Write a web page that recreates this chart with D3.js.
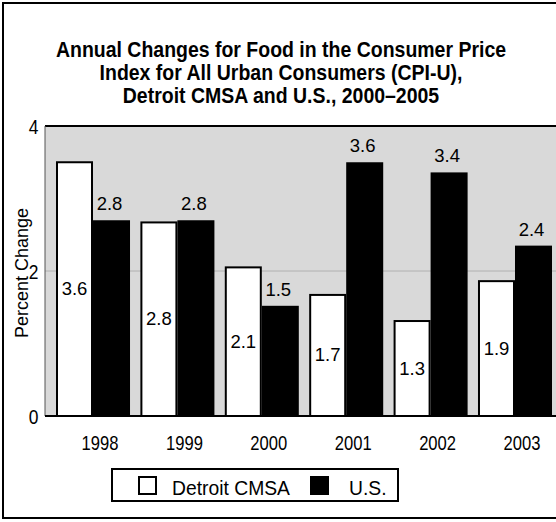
<!DOCTYPE html>
<html lang="en">
<head>
  <meta charset="UTF-8">
  <title>Food CPI-U, Detroit CMSA and U.S.</title>
  <style>
    body {
      margin: 0;
      padding: 0;
      background-color: #ffffff;
      font-family: "Liberation Sans", Arial, Helvetica, sans-serif;
    }
    svg { display: block; }
  </style>
  <script src="https://d3js.org/d3.v7.min.js"></script>
</head>
<body>
  <div id="chart"></div>

  <script>
    // Data
    const years = ["1998", "1999", "2000", "2001", "2002", "2003"];
    // bar heights as drawn
    const detroitValues = [3.5, 2.67, 2.05, 1.67, 1.31, 1.86];
    const usValues = [2.7, 2.7, 1.52, 3.5, 3.36, 2.35];
    // printed labels
    const detroitLabels = ["3.6", "2.8", "2.1", "1.7", "1.3", "1.9"];
    const usLabels = ["2.8", "2.8", "1.5", "3.6", "3.4", "2.4"];
    const yTicks = [0, 2, 4];
    const titleLines = [
      "Annual Changes for Food in the Consumer Price",
      "Index for All Urban Consumers (CPI-U),",
      "Detroit CMSA and U.S., 2000\u20132005"
    ];
    const seriesNames = ["Detroit CMSA", "U.S."];

    const width = 556;
    const height = 522;
    const plot = {left: 45, right: 562, top: 126, bottom: 416};

    const svg = d3.select("#chart")
      .append("svg")
      .attr("width", width)
      .attr("height", height);

    // outer frame (right side runs off the picture)
    svg.append("rect")
      .attr("x", 3)
      .attr("y", 3)
      .attr("width", 570)
      .attr("height", 515)
      .attr("fill", "none")
      .attr("stroke", "#000")
      .attr("stroke-width", 2);

    // title, condensed bold
    svg.append("g")
      .attr("transform", "translate(281,57) scale(0.886,1)")
      .append("text")
      .attr("text-anchor", "middle")
      .attr("font-weight", "bold")
      .attr("font-size", "22px")
      .selectAll("tspan")
      .data(titleLines)
      .enter()
      .append("tspan")
      .attr("x", 0)
      .attr("dy", (d, i) => i === 0 ? 0 : 23)
      .text(d => d);

    const y = d3.scaleLinear()
      .domain([0, 4])
      .range([plot.bottom, plot.top]);

    const x = d3.scaleBand()
      .domain(years)
      .range([50.8, 557.2])
      .paddingInner(0.123)
      .paddingOuter(0.0616);

    const xSub = d3.scaleBand()
      .domain(["detroit", "us"])
      .range([0, x.bandwidth()]);

    // plot background
    svg.append("rect")
      .attr("x", plot.left)
      .attr("y", plot.top)
      .attr("width", plot.right - plot.left)
      .attr("height", plot.bottom - plot.top)
      .attr("fill", "#d9d9d9");

    // gridline at 2
    svg.append("line")
      .attr("x1", plot.left)
      .attr("x2", plot.right)
      .attr("y1", y(2))
      .attr("y2", y(2))
      .attr("stroke", "#b0b0b0")
      .attr("stroke-width", 1);

    // plot frame lines
    svg.append("line")
      .attr("x1", plot.left).attr("x2", plot.right)
      .attr("y1", plot.top).attr("y2", plot.top)
      .attr("stroke", "#000").attr("stroke-width", 2);
    svg.append("line")
      .attr("x1", plot.left).attr("x2", plot.left)
      .attr("y1", plot.top).attr("y2", plot.bottom)
      .attr("stroke", "#555").attr("stroke-width", 1);

    const groups = svg.selectAll(".year")
      .data(years)
      .enter()
      .append("g")
      .attr("class", "year")
      .attr("transform", d => `translate(${x(d)},0)`);

    // Detroit bars
    groups.append("rect")
      .attr("x", xSub("detroit") + 1)
      .attr("y", (d, i) => y(detroitValues[i]))
      .attr("width", xSub.bandwidth() - 2)
      .attr("height", (d, i) => y(0) - y(detroitValues[i]))
      .attr("fill", "#fff")
      .attr("stroke", "#000")
      .attr("stroke-width", 2);

    // U.S. bars
    groups.append("rect")
      .attr("x", xSub("us"))
      .attr("y", (d, i) => y(usValues[i]))
      .attr("width", xSub.bandwidth())
      .attr("height", (d, i) => y(0) - y(usValues[i]))
      .attr("fill", "#000");

    // value labels
    groups.append("text")
      .attr("x", xSub("detroit") + xSub.bandwidth() / 2)
      .attr("y", (d, i) => (y(detroitValues[i]) + y(0)) / 2 + 6)
      .attr("text-anchor", "middle")
      .attr("font-size", "18.5px")
      .text((d, i) => detroitLabels[i]);

    groups.append("text")
      .attr("x", xSub("us") + xSub.bandwidth() / 2 - 2)
      .attr("y", (d, i) => y(usValues[i]) - 10)
      .attr("text-anchor", "middle")
      .attr("font-size", "18.5px")
      .text((d, i) => usLabels[i]);

    // baseline
    svg.append("line")
      .attr("x1", plot.left).attr("x2", plot.right)
      .attr("y1", plot.bottom).attr("y2", plot.bottom)
      .attr("stroke", "#000").attr("stroke-width", 2);

    // y axis
    const yAxis = svg.append("g")
      .attr("transform", `translate(${plot.left},1)`)
      .call(d3.axisLeft(y).tickValues(yTicks).tickFormat(d3.format("d")).tickSize(0).tickPadding(8));
    yAxis.select(".domain").remove();
    yAxis.selectAll("text")
      .attr("font-family", null)
      .attr("font-size", "21px")
      .attr("fill", "#000")
      .attr("transform", "scale(0.83,1)");

    svg.append("text")
      .attr("transform", `translate(28,${(plot.top + plot.bottom) / 2 + 2}) rotate(-90)`)
      .attr("text-anchor", "middle")
      .attr("font-size", "18px")
      .text("Percent Change");

    // x axis
    const xAxis = svg.append("g")
      .attr("transform", `translate(7,${plot.bottom})`)
      .call(d3.axisBottom(x).tickSize(0).tickPadding(20));
    xAxis.select(".domain").remove();
    xAxis.selectAll("text")
      .attr("font-family", null)
      .attr("font-size", "20px")
      .attr("fill", "#000")
      .attr("transform", "scale(0.83,1)");

    // legend
    const legend = svg.append("g")
      .attr("transform", "translate(112,469)");
    legend.append("rect")
      .attr("width", 286)
      .attr("height", 32)
      .attr("fill", "#fff")
      .attr("stroke", "#000")
      .attr("stroke-width", 2);

    const legendItems = [
      {name: seriesNames[0], fill: "#fff", sx: 27, tx: 60},
      {name: seriesNames[1], fill: "#000", sx: 199, tx: 237}
    ];
    const item = legend.selectAll(".item")
      .data(legendItems)
      .enter()
      .append("g")
      .attr("class", "item");
    item.append("rect")
      .attr("x", d => d.sx)
      .attr("y", 8)
      .attr("width", 17)
      .attr("height", 17)
      .attr("fill", d => d.fill)
      .attr("stroke", "#000")
      .attr("stroke-width", 2);
    item.append("text")
      .attr("transform", d => `translate(${d.tx},26) scale(0.92,1)`)
      .attr("font-size", "21px")
      .text(d => d.name);
  </script>
</body>
</html>
